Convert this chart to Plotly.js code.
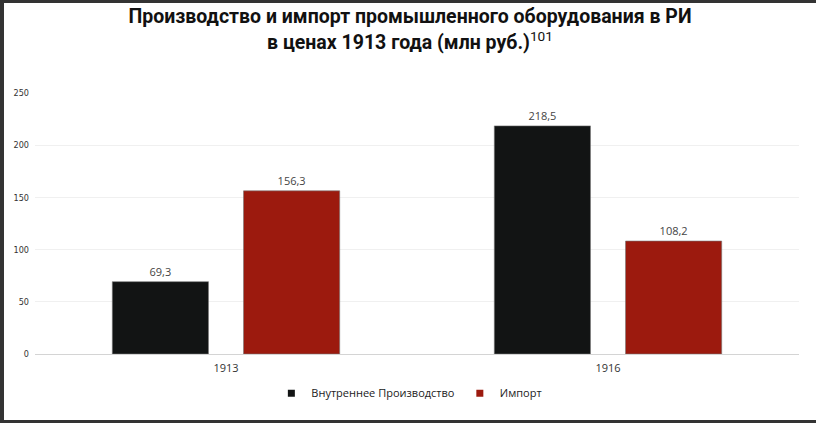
<!DOCTYPE html>
<html>
<head>
    <meta charset="UTF-8">
    <title>Оборудование</title>
    <script src="https://cdn.plot.ly/plotly-3.0.1.min.js"></script>
    <style>
    body {
      margin: 0;
      padding: 0;
      background-color: #ffffff;
    }
    .frame {
      box-sizing: border-box;
      width: 816px;
      height: 423px;
      border-top: 3px solid #333;
      border-left: 4px solid #333;
      border-bottom: 3px solid #333;
      background: white;
    }
  </style>
</head>
<body>
    <div class="frame"><div id="chart"></div></div>

    <script>
        // values
        var years = ['1913', '1916'];
        var domestic = [69.3, 218.5];
        var imports = [156.3, 108.2];
        var seriesNames = ['Внутреннее Производство', 'Импорт'];
        var seriesColors = ['#121414', '#9c1a0e'];
        var yTicks = [0, 50, 100, 150, 200, 250];

        var labelFont = { family: 'Open Sans, sans-serif', size: 11, color: '#444' };

        var traces = [domestic, imports].map((vals, i) => {
            return {
                x: years,
                y: vals,
                name: seriesNames[i],
                type: 'bar',
                showlegend: false,
                marker: { color: seriesColors[i], line: { color: '#777', width: 0.6 } },
                texttemplate: '%{y:.1f}',
                textposition: 'outside',
                cliponaxis: false,
                textfont: labelFont
            };
        });

        // small square markers for the legend only
        seriesNames.forEach((name, i) => {
            traces.push({
                x: [null],
                y: [null],
                name: name,
                type: 'scatter',
                mode: 'markers',
                marker: { symbol: 'square', size: 7, color: seriesColors[i] }
            });
        });

        var layout = {
            width: 812,
            height: 417,
            separators: ', ',
            title: {
                text: 'Производство и импорт промышленного оборудования в РИ<br>в ценах 1913 года (млн руб.)<sup style="font-weight:normal;font-size:10px">101</sup>',
                font: { family: 'Roboto, sans-serif', size: 19.5, color: '#111', weight: 'bold' },
                x: 0.5,
                xanchor: 'center',
                yref: 'container',
                y: 0.951,
                yanchor: 'top',
                automargin: false
            },
            margin: { t: 90, l: 31, r: 17, b: 64 },
            bargap: 0.313,
            bargroupgap: 0.267,
            xaxis: {
                type: 'category',
                tickfont: { family: 'Open Sans, sans-serif', size: 11, color: '#333' },
                showline: true,
                linecolor: '#d4d4d4',
                linewidth: 1,
                ticks: '',
                ticklabelstandoff: 4
            },
            yaxis: {
                range: [0, 250],
                tickvals: yTicks,
                tickfont: { family: 'DejaVu Sans Condensed, sans-serif', size: 9, color: '#333' },
                gridcolor: '#f0f0f0',
                gridwidth: 1,
                zeroline: false,
                showline: false,
                ticklabelstandoff: 5
            },
            legend: {
                orientation: 'h',
                x: 0.49,
                xanchor: 'center',
                y: -0.15,
                yanchor: 'middle',
                font: { family: 'Open Sans, sans-serif', size: 11, color: '#222' },
                itemwidth: 30,
                tracegroupgap: 0
            },
            plot_bgcolor: 'white',
            paper_bgcolor: 'white'
        };

        Plotly.newPlot('chart', traces, layout, { displayModeBar: false });
    </script>
</body>
</html>
